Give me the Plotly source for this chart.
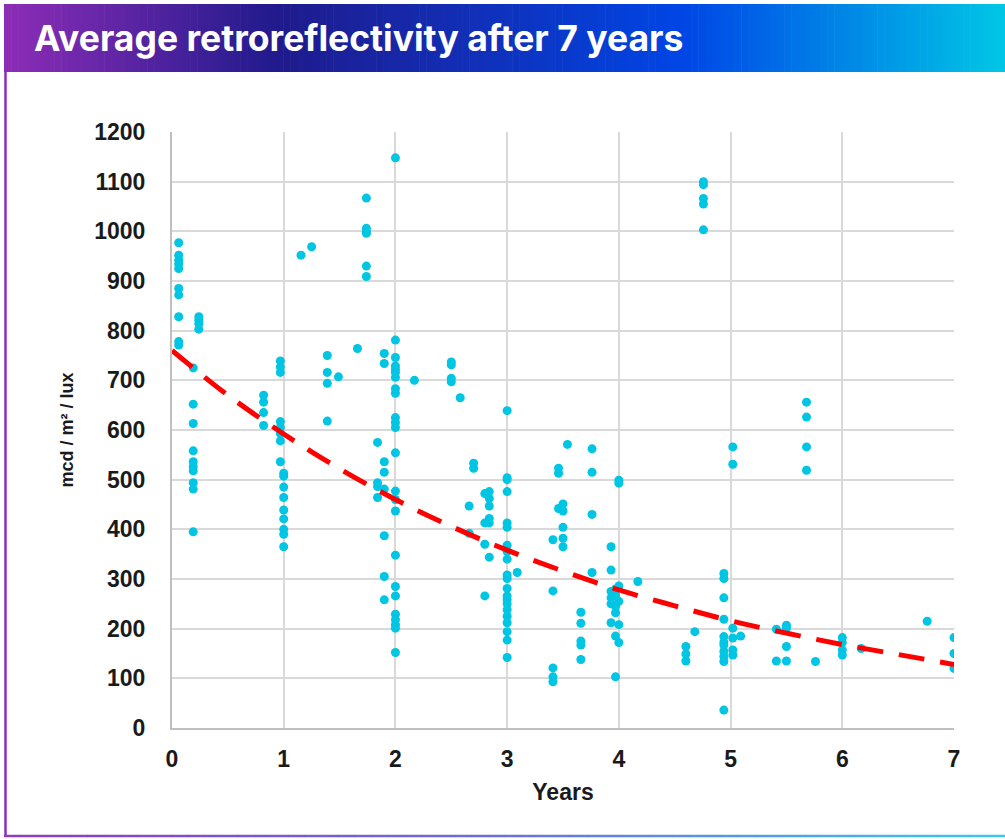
import plotly.graph_objects as go

# ---- data ----
years = (
    [0.06] * 10 + [0.19] * 10 + [0.24] * 4 + [0.82] * 4 + [0.97] * 8 + [1.0] * 9
    + [1.155, 1.25] + [1.39] * 4 + [1.49, 1.66] + [1.74] * 6 + [1.84] * 4
    + [1.90] * 8 + [2.0] * 24 + [2.17] + [2.50] * 4 + [2.58] + [2.66] * 2
    + [2.70] * 2 + [2.80] * 4 + [2.84] * 6 + [3.0] * 21 + [3.09] + [3.41] * 5
    + [3.46] * 3 + [3.50] * 5 + [3.54] + [3.66] * 5 + [3.76] * 4
    + [3.93] * 6 + [3.97] * 6 + [4.0] * 6 + [4.17] + [4.60] * 3 + [4.68]
    + [4.757] * 5 + [4.94] * 11 + [5.02] * 6 + [5.09] + [5.41] * 2 + [5.50] * 4
    + [5.68] * 4 + [5.76] + [6.0] * 4 + [6.17, 6.76] + [7.0] * 3
)
retro = (
    [977, 952, 942, 934, 925, 885, 872, 828, 778, 771]
    + [725, 652, 613, 558, 536, 526, 518, 494, 481, 395]
    + [828, 821, 814, 803]
    + [670, 656, 635, 609]
    + [739, 727, 716, 617, 605, 593, 578, 536]
    + [513, 507, 485, 464, 439, 421, 400, 390, 365]
    + [952, 969]
    + [750, 716, 694, 618]
    + [707, 764]
    + [1067, 1006, 1000, 996, 930, 909]
    + [575, 494, 486, 464]
    + [754, 734, 536, 515, 481, 387, 305, 258]
    + [1148, 781, 746, 729, 722, 716, 706, 683, 674, 625, 615, 605,
       554, 477, 460, 437, 348, 285, 266, 229, 218, 208, 201, 152]
    + [700]
    + [737, 731, 704, 697]
    + [665]
    + [447, 392]
    + [533, 523]
    + [472, 413, 370, 266]
    + [476, 462, 447, 422, 413, 344]
    + [639, 504, 500, 476, 413, 404, 368, 355, 340, 308, 301, 281, 266,
       258, 250, 238, 225, 212, 194, 177, 142]
    + [313]
    + [379, 276, 121, 103, 93]
    + [523, 513, 442]
    + [451, 437, 404, 382, 365]
    + [571]
    + [233, 211, 175, 167, 138]
    + [562, 515, 430, 313]
    + [365, 318, 275, 262, 250, 212]
    + [280, 268, 245, 232, 185, 103]
    + [499, 493, 286, 255, 208, 172]
    + [295]
    + [164, 149, 135]
    + [194]
    + [1100, 1094, 1066, 1055, 1003]
    + [311, 301, 262, 219, 184, 173, 167, 154, 144, 134, 36]
    + [566, 531, 201, 181, 157, 147]
    + [185]
    + [199, 135]
    + [207, 201, 164, 135]
    + [656, 626, 566, 519]
    + [134]
    + [182, 172, 157, 147]
    + [160, 215]
    + [182, 150, 120]
)

trend_years = [0, 0.5, 1, 1.5, 2, 2.5, 3, 3.5, 4, 4.5, 5, 5.5, 6, 6.5, 7]
trend_values = [760, 670, 592, 522, 460, 406, 358, 316, 278, 246, 216, 191, 168, 148, 128]

y_ticks = list(range(0, 1201, 100))
x_ticks = list(range(0, 8))

TITLE = "Average retroreflectivity after 7 years"

# ---- page geometry (pixels) ----
W, H = 1005, 839
PL, PR, PT, PB = 172, 954, 132, 728


def px2x(px):
    return (px - PL) / (PR - PL)


def px2y(py):
    return (PB - py) / (PB - PT)


def hex2rgb(h):
    h = h.lstrip("#")
    return [int(h[i:i + 2], 16) for i in (0, 2, 4)]


def gradient(stops, t):
    for (t0, c0), (t1, c1) in zip(stops, stops[1:]):
        if t0 <= t <= t1:
            f = (t - t0) / (t1 - t0) if t1 > t0 else 0
            a, b = hex2rgb(c0), hex2rgb(c1)
            r = [round(a[i] + (b[i] - a[i]) * f) for i in range(3)]
            return "rgb(%d,%d,%d)" % tuple(r)
    return stops[-1][1]


banner_stops = [(0.0, "#8C2DB6"), (0.27, "#201A8C"), (0.68, "#0046E6"), (1.0, "#00C6E6")]
border_stops = [(0.0, "#8C3DC0"), (0.5, "#6A6FE0"), (1.0, "#3CC8E8")]

shapes = []
n_strips = 140
bx0, bx1, by0, by1 = 4, 1006, 4, 72
step = (bx1 - bx0) / n_strips
for i in range(n_strips):
    c = gradient(banner_stops, i / (n_strips - 1))
    shapes.append(dict(
        type="rect", xref="paper", yref="paper", layer="below",
        x0=px2x(bx0 + i * step), x1=px2x(bx0 + (i + 1) * step + 0.6),
        y0=px2y(by1), y1=px2y(by0),
        fillcolor=c, line=dict(width=0),
    ))

# left and bottom frame
shapes.append(dict(
    type="line", xref="paper", yref="paper",
    x0=px2x(5.5), x1=px2x(5.5), y0=px2y(72), y1=px2y(836),
    line=dict(color="#8C2DB6", width=2.5),
))
n_seg = 60
seg = (1006 - 4) / n_seg
for i in range(n_seg):
    c = gradient(border_stops, i / (n_seg - 1))
    shapes.append(dict(
        type="line", xref="paper", yref="paper",
        x0=px2x(4 + i * seg), x1=px2x(4 + (i + 1) * seg + 0.5),
        y0=px2y(836), y1=px2y(836),
        line=dict(color=c, width=2.5),
    ))

fig = go.Figure()
fig.add_trace(go.Scatter(
    x=years, y=retro, mode="markers",
    marker=dict(color="#00C5E3", size=9, line=dict(width=0)),
    showlegend=False, hoverinfo="x+y",
))
fig.add_trace(go.Scatter(
    x=trend_years, y=trend_values, mode="lines",
    line=dict(color="#FF0000", width=5, dash="26px,16px", shape="spline"),
    showlegend=False, hoverinfo="skip",
))

tick_font = dict(family="Liberation Sans, Arial, sans-serif", size=23, color="#1a1a1a", weight=700)

fig.update_layout(
    width=W, height=H,
    margin=dict(l=PL, r=W - PR, t=PT, b=H - PB),
    paper_bgcolor="white",
    plot_bgcolor="white",
    shapes=shapes,
    annotations=[dict(
        text=TITLE, xref="paper", yref="paper",
        x=px2x(32), y=px2y(38), xanchor="left", yanchor="middle",
        showarrow=False,
        font=dict(family="Inter, Roboto, sans-serif", size=35.5, color="white", weight=700),
    )],
)
fig.update_xaxes(
    range=[0, 7], tickvals=x_ticks, showgrid=True, gridcolor="#D9D9D9", gridwidth=2,
    showline=True, linecolor="#BFBFBF", linewidth=2, zeroline=False,
    tickfont=tick_font, ticklabelstandoff=9,
    title=dict(text="Years", font=tick_font, standoff=13),
)
fig.update_yaxes(
    range=[0, 1200], tickvals=y_ticks, showgrid=True, gridcolor="#D9D9D9", gridwidth=2,
    showline=True, linecolor="#BFBFBF", linewidth=2, zeroline=False,
    tickfont=tick_font, ticklabelstandoff=20,
    title=dict(text="mcd / m² / lux", font=dict(family="Liberation Sans, Arial, sans-serif",
                                                size=18, color="#1a1a1a", weight=700), standoff=16),
)

fig.write_html(
    "out.html",
    config={"displayModeBar": False},
    post_script="document.body.style.margin='0';",
)
